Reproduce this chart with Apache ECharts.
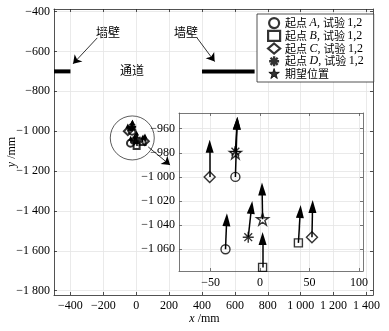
<!DOCTYPE html>
<html><head><meta charset="utf-8">
<script src="https://cdn.jsdelivr.net/npm/echarts@6/dist/echarts.min.js"></script>
<style>html,body{margin:0;padding:0;background:#fff}#c{width:389px;height:331px}</style>
</head><body><div id="c"></div>
<script>
// ---- tick labels ----
const mainXTicks = [-400, -200, 0, 200, 400, 600, 800, 1000, 1200, 1400];
const mainYTicks = [-1800, -1600, -1400, -1200, -1000, -800, -600, -400];
const insetXTicks = [-50, 0, 50, 100];
const insetYTicks = [-1060, -1040, -1020, -1000, -980, -960];

// ---- data (mm) ----
const startA = [[-25, -1000], [-35, -1060]];
const startB = [[2.5, -1075], [38.7, -1054.7]];
const startC = [[-51, -1000], [52.4, -1050]];
const startD = [[-25, -979], [-12, -1050]];
const goalPos = [[2.5, -1035], [-25, -980]];
// heading arrows: start -> arrow head
const arrowFrom = [[-51, -1000], [-25, -1000], [-25, -979], [-35, -1060], [-12, -1050], [2.5, -1035], [2.5, -1075], [38.7, -1054.7], [52.4, -1050]];
const arrowTo   = [[-51, -974.5], [-23.3, -955.4], [-23.3, -955.4], [-33.8, -1035.5], [-8.7, -1025.3], [2, -1010], [2.5, -1051], [40.6, -1028.7], [53, -1024.5]];
// walls
const wall1 = [[-500, -700], [-400, -700]];
const wall2 = [[400, -700], [720, -700]];
// annotation arrows
const annoFrom = [[-237, -532], [370, -532], [73, -1079]];
const annoTo   = [[-384, -662], [477, -651], [206, -1170]];
const focusCircle = [[-24, -1034]];

const SERIF = 'Liberation Serif, "Noto Sans CJK SC", serif';
const CJK = '"Noto Sans CJK SC", "Liberation Serif", sans-serif';
function fmt(v) {
  let s = Math.abs(v).toString();
  if (s.length > 3) s = s.slice(0, -3) + ' ' + s.slice(-3);
  return (v < 0 ? '\u2212' : '') + s;
}
// star path
let sp = [];
for (let k = 0; k < 10; k++) {
  const r = k % 2 === 0 ? 50 : 19.1;
  const a = -Math.PI / 2 + k * Math.PI / 5;
  sp.push((k === 0 ? 'M' : 'L') + (50 + r * Math.cos(a)).toFixed(2) + ',' + (50 + r * Math.sin(a)).toFixed(2));
}
const STAR = 'path://' + sp.join('') + 'Z';
const AST = 'path://M0,5L10,5M5,0L5,10M1.46,1.46L8.54,8.54M8.54,1.46L1.46,8.54';
const HEAD = 'path://M-2.5,0M10.5,0M4,0L8,13L0,13Z';

const pairs = (a, b) => a.map((p, i) => ({coords: [p, b[i]]}));
const hollow = {color: 'rgba(0,0,0,0)', borderColor: '#000', borderWidth: 1.4};

function axisCommon(extra) {
  return Object.assign({
    axisLine: {show: true, onZero: false, lineStyle: {color: '#262626', width: 0.8}},
    axisTick: {show: true, inside: true, length: 3, lineStyle: {color: '#262626', width: 0.8}},
    axisLabel: {color: '#000', fontFamily: SERIF, fontSize: 12, formatter: fmt},
    splitLine: {show: false},
  }, extra);
}

const chart = echarts.init(document.getElementById('c'), null, {renderer: 'canvas'});

const rich = {
  n: {fontFamily: CJK, fontSize: 11, color: '#000', lineHeight: 12},
  i: {fontFamily: 'Liberation Serif', fontStyle: 'italic', fontSize: 12, color: '#000', lineHeight: 12},
  s: {fontFamily: 'Liberation Serif', fontSize: 12, color: '#000', lineHeight: 12}
};

const option = {
  animation: false,
  backgroundColor: '#fff',
  grid: [
    {left: 54, right: 16, top: 9, bottom: 36, outerBoundsMode: 'none', containLabel: false},
    {left: 179, right: 26, top: 113, bottom: 60, show: false, outerBoundsMode: 'none', containLabel: false}
  ],
  xAxis: [
    axisCommon({type: 'value', gridIndex: 0, min: -500, max: 1440, position: 'bottom',
      axisTick: {show: true, inside: true, length: 3, customValues: mainXTicks, lineStyle: {color: '#262626', width: 0.8}},
      axisLabel: {color: '#000', fontFamily: SERIF, fontSize: 12, formatter: fmt, customValues: mainXTicks, margin: 5},
      splitLine: {show: true, lineStyle: {color: '#e4e4e4', width: 0.8}},
      name: '{i|x}{s| /mm}', nameLocation: 'middle', nameGap: 18, nameMoveOverlap: false,
      nameTextStyle: {rich: rich, padding: [0, 18, 0, 0]}}),
    axisCommon({type: 'value', gridIndex: 0, min: -500, max: 1440, position: 'top',
      axisTick: {show: true, inside: true, length: 3, customValues: mainXTicks, lineStyle: {color: '#262626', width: 0.8}},
      axisLabel: {show: false}}),
    axisCommon({type: 'value', gridIndex: 1, min: -82, max: 104, position: 'bottom',
      axisLine: {show: true, onZero: false, lineStyle: {color: '#555', width: 0.8}},
      axisTick: {show: true, inside: true, length: 3, customValues: insetXTicks, lineStyle: {color: '#555', width: 0.8}},
      axisLabel: {color: '#000', fontFamily: SERIF, fontSize: 12, formatter: fmt, customValues: insetXTicks, margin: 6},
      splitLine: {show: true, lineStyle: {color: '#e4e4e4', width: 0.8}}}),
    axisCommon({type: 'value', gridIndex: 1, min: -82, max: 104, position: 'top',
      axisLine: {show: true, onZero: false, lineStyle: {color: '#555', width: 0.8}},
      axisTick: {show: true, inside: true, length: 3, customValues: insetXTicks, lineStyle: {color: '#555', width: 0.8}},
      axisLabel: {show: false}})
  ],
  yAxis: [
    axisCommon({type: 'value', gridIndex: 0, min: -1822, max: -387, position: 'left',
      axisTick: {show: true, inside: true, length: 3, customValues: mainYTicks, lineStyle: {color: '#262626', width: 0.8}},
      axisLabel: {color: '#000', fontFamily: SERIF, fontSize: 12, formatter: fmt, customValues: mainYTicks, margin: 4},
      splitLine: {show: true, lineStyle: {color: '#e4e4e4', width: 0.8}},
      name: '{i|y}{s| /mm}', nameLocation: 'middle', nameGap: 36, nameRotate: 90, nameMoveOverlap: false,
      nameTextStyle: {rich: rich}}),
    axisCommon({type: 'value', gridIndex: 0, min: -1822, max: -387, position: 'right',
      axisTick: {show: true, inside: true, length: 3, customValues: mainYTicks, lineStyle: {color: '#262626', width: 0.8}},
      axisLabel: {show: false}}),
    axisCommon({type: 'value', gridIndex: 1, min: -1078, max: -947, position: 'left',
      axisLine: {show: true, onZero: false, lineStyle: {color: '#555', width: 0.8}},
      axisTick: {show: true, inside: true, length: 3, customValues: insetYTicks, lineStyle: {color: '#555', width: 0.8}},
      axisLabel: {color: '#000', fontFamily: SERIF, fontSize: 12, formatter: fmt, customValues: insetYTicks, margin: 4},
      splitLine: {show: true, lineStyle: {color: '#e4e4e4', width: 0.8}}}),
    axisCommon({type: 'value', gridIndex: 1, min: -1078, max: -947, position: 'right',
      axisLine: {show: true, onZero: false, lineStyle: {color: '#555', width: 0.8}},
      axisTick: {show: true, inside: true, length: 3, customValues: insetYTicks, lineStyle: {color: '#555', width: 0.8}},
      axisLabel: {show: false}})
  ],
  legend: {
    orient: 'vertical', left: 257, top: 14, z: 20,
    backgroundColor: '#fff', borderColor: '#262626', borderWidth: 0.8,
    padding: [3, 10, 3, 10], itemWidth: 12, itemHeight: 10, itemGap: 0.5,
    textStyle: {rich: rich},
    formatter: function (name) {
      if (name === '期望位置') return '{n|期望位置}';
      return '{n|起点 }{i|' + name.slice(3) + '}{s|, }{n|试验 }{s|1,2}';
    },
    data: [
      {name: '起点 A', icon: 'circle', itemStyle: {color: 'rgba(0,0,0,0)', borderColor: '#000', borderWidth: 2.2}},
      {name: '起点 B', icon: 'rect', itemStyle: {color: 'rgba(0,0,0,0)', borderColor: '#000', borderWidth: 2.2}},
      {name: '起点 C', icon: 'diamond', itemStyle: {color: 'rgba(0,0,0,0)', borderColor: '#000', borderWidth: 2.2}},
      {name: '起点 D', icon: AST, itemStyle: {color: 'rgba(0,0,0,0)', borderColor: '#000', borderWidth: 2.4}},
      {name: '期望位置', icon: STAR, itemStyle: {color: '#000', borderColor: '#000', borderWidth: 1}}
    ]
  },
  graphic: [
    {type: 'text', left: 96, top: 26, style: {text: '墙壁', font: '12px ' + CJK, fill: '#000'}},
    {type: 'text', left: 174, top: 26, style: {text: '墙壁', font: '12px ' + CJK, fill: '#000'}},
    {type: 'text', left: 120, top: 64, style: {text: '通道', font: '12px ' + CJK, fill: '#000'}}
  ],
  series: [
    // walls
    {type: 'line', xAxisIndex: 0, yAxisIndex: 0, data: wall1, symbol: 'none', lineStyle: {color: '#000', width: 4}, silent: true},
    {type: 'line', xAxisIndex: 0, yAxisIndex: 0, data: wall2, symbol: 'none', lineStyle: {color: '#000', width: 4}, silent: true},
    // annotation arrows
    {type: 'lines', coordinateSystem: 'cartesian2d', xAxisIndex: 0, yAxisIndex: 0,
      data: pairs(annoFrom, annoTo), symbol: ['none', 'arrow'], symbolSize: [0, 8],
      lineStyle: {color: '#000', width: 0.8, opacity: 1}},
    // focus circle
    {type: 'scatter', xAxisIndex: 0, yAxisIndex: 0, data: focusCircle, symbol: 'circle', symbolSize: 44,
      itemStyle: {color: 'rgba(0,0,0,0)', borderColor: '#000', borderWidth: 0.8}},
    // main cluster
    {type: 'lines', coordinateSystem: 'cartesian2d', xAxisIndex: 0, yAxisIndex: 0,
      data: pairs(arrowFrom, arrowTo), symbol: ['none', 'triangle'], symbolSize: [0, 5],
      lineStyle: {color: '#000', width: 1.5, opacity: 1}},
    {type: 'scatter', name: 'mA', xAxisIndex: 0, yAxisIndex: 0, data: startA, symbol: 'circle', symbolSize: 7, itemStyle: {color: 'rgba(0,0,0,0)', borderColor: '#000', borderWidth: 2}},
    {type: 'scatter', name: 'mB', xAxisIndex: 0, yAxisIndex: 0, data: startB, symbol: 'rect', symbolSize: 6, itemStyle: {color: 'rgba(0,0,0,0)', borderColor: '#000', borderWidth: 2}},
    {type: 'scatter', name: 'mC', xAxisIndex: 0, yAxisIndex: 0, data: startC, symbol: 'diamond', symbolSize: 8, itemStyle: {color: 'rgba(0,0,0,0)', borderColor: '#000', borderWidth: 2}},
    {type: 'scatter', name: 'mD', xAxisIndex: 0, yAxisIndex: 0, data: startD, symbol: AST, symbolSize: 8, itemStyle: {color: 'rgba(0,0,0,0)', borderColor: '#000', borderWidth: 2}},
    {type: 'scatter', name: 'mS', xAxisIndex: 0, yAxisIndex: 0, data: goalPos, symbol: STAR, symbolSize: 8, itemStyle: {color: '#000', borderColor: '#000', borderWidth: 1}},
    // inset
    {type: 'lines', coordinateSystem: 'cartesian2d', xAxisIndex: 2, yAxisIndex: 2,
      data: pairs(arrowFrom, arrowTo), symbol: ['none', HEAD], symbolSize: [0, 13],
      lineStyle: {color: '#000', width: 1.5, opacity: 1}, z: 5},
    {type: 'scatter', name: '起点 A', xAxisIndex: 2, yAxisIndex: 2, data: startA, symbol: 'circle', symbolSize: 9, itemStyle: hollow, z: 6},
    {type: 'scatter', name: '起点 B', xAxisIndex: 2, yAxisIndex: 2, data: startB, symbol: 'rect', symbolSize: 8, itemStyle: hollow, z: 6},
    {type: 'scatter', name: '起点 C', xAxisIndex: 2, yAxisIndex: 2, data: startC, symbol: 'diamond', symbolSize: 11, itemStyle: hollow, z: 6},
    {type: 'scatter', name: '起点 D', xAxisIndex: 2, yAxisIndex: 2, data: startD, symbol: AST, symbolSize: 11, itemStyle: hollow, z: 6},
    {type: 'scatter', name: '期望位置', xAxisIndex: 2, yAxisIndex: 2, data: goalPos, symbol: STAR, symbolSize: 12, itemStyle: hollow, z: 6}
  ]
};
chart.setOption(option);
</script>
</body></html>
